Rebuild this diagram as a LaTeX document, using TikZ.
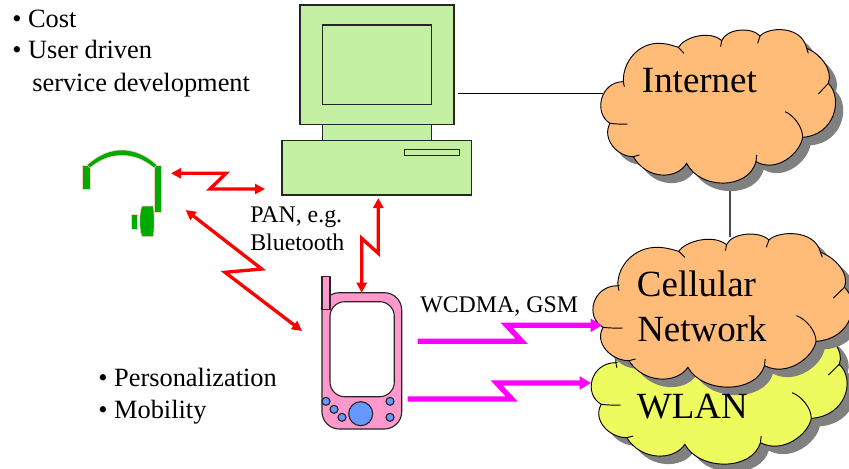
\documentclass[tikz,border=0pt]{standalone}
\usepackage{fontspec}
\setmainfont{Liberation Serif}
\usetikzlibrary{arrows.meta}
\definecolor{cloudorange}{HTML}{FFBB78}
\definecolor{cloudyellow}{HTML}{EEFB5E}
\definecolor{pcgreen}{HTML}{C4F0A4}
\definecolor{phonepink}{HTML}{FF99CC}
\definecolor{phoneblue}{HTML}{6699FF}
\definecolor{headgreen}{HTML}{00AA00}
\definecolor{halo}{HTML}{F8CFC4}
\definecolor{boltmag}{HTML}{FF00FF}
\definecolor{boltred}{HTML}{FF0000}
\newcommand{\cloudoutline}{(130,185) .. controls (128,125) and (175,70) .. (235,70)
 .. controls (262,70) and (282,78) .. (295,82)
 .. controls (315,50) and (390,30) .. (425,62)
 .. controls (440,25) and (515,20) .. (540,48)
 .. controls (565,20) and (665,15) .. (680,85)
 .. controls (720,100) and (760,150) .. (745,190)
 .. controls (790,235) and (765,345) .. (668,352)
 .. controls (660,400) and (590,460) .. (528,425)
 .. controls (505,510) and (360,510) .. (320,430)
 .. controls (290,480) and (200,480) .. (160,410)
 .. controls (110,410) and (65,355) .. (90,310)
 .. controls (40,280) and (60,185) .. cycle}
\newcommand{\drawcloud}[4]{%
 \begin{scope}[shift={(#2,#3)},xscale=#4,scale=0.33333]
  \fill[cloudshadow,shift={(23,24)}] \cloudoutline;
  \filldraw[cloudedge,fill=#1] \cloudoutline;
  \draw[cloudedge] (130,185) -- (133,200);
  \draw[cloudedge] (295,82) -- (312,100);
  \draw[cloudedge] (425,62) -- (422,80);
  \draw[cloudedge] (540,48) -- (533,70);
  \draw[cloudedge] (680,85) -- (685,100);
  \draw[cloudedge] (745,190) -- (715,222);
  \draw[cloudedge] (668,352) .. controls (668,320) and (640,285) .. (615,275);
  \draw[cloudedge] (528,425) -- (530,405);
  \draw[cloudedge] (160,410) -- (178,405);
  \draw[cloudedge] (90,310) .. controls (105,312) and (125,313) .. (143,312);
 \end{scope}}
\tikzset{
 cloudshadow/.style={fill=black!50},
 cloudedge/.style={draw=black,line width=0.7pt},
 pcpart/.style={draw=black!85,fill=pcgreen,line width=0.85pt},
 phonepart/.style={draw=black!85,line width=0.85pt},
 keypad/.style={phonepart,fill=phoneblue},
 headpart/.style={fill=headgreen,draw=halo,line width=0.45pt},
 wire/.style={line width=0.6pt,black},
 redbolt/.style={draw=boltred,line width=2.5pt,{Triangle[length=7.5pt,width=7.5pt]}-{Triangle[length=7.5pt,width=7.5pt]}},
 magbolt/.style={draw=boltmag,line width=4pt,-{Triangle[length=8.5pt,width=9.5pt]}},
 label/.style={anchor=base west,inner sep=0pt,font=\fontsize{19.8}{22}\selectfont},
 small/.style={anchor=base west,inner sep=0pt,font=\fontsize{17.9}{20}\selectfont},
 cloudtext/.style={anchor=base west,inner sep=0pt,font=\fontsize{27.7}{30}\selectfont},
}
\begin{document}
\begin{tikzpicture}[x=0.75pt,y=-0.75pt]
\useasboundingbox (0,0) rectangle (849,468);
\fill[white] (0,0) rectangle (849,468);
% connector end points
\coordinate (pcR) at (458,93);
\coordinate (inetL) at (603,93);
\coordinate (inetB) at (730,189);
\coordinate (cellT) at (730,237);
\coordinate (headA) at (171,173.3);
\coordinate (headA1) at (226,173.3);
\coordinate (headA2) at (210,189);
\coordinate (pcL) at (265,189);
\coordinate (headB) at (185.7,210);
\coordinate (headB1) at (261.7,269);
\coordinate (headB2) at (225,272.3);
\coordinate (phoneL) at (302,331);
\coordinate (pcB) at (378.3,198);
\coordinate (pcB1) at (378.3,253.3);
\coordinate (pcB2) at (361.7,238.3);
\coordinate (phoneT) at (361.7,292.7);
\coordinate (phC) at (417.7,341.3);
\coordinate (phC1) at (521.7,341.3);
\coordinate (phC2) at (506.7,325.3);
\coordinate (cellL) at (602,325.3);
\coordinate (phW) at (407.7,399);
\coordinate (phW1) at (511.7,399);
\coordinate (phW2) at (496.7,383);
\coordinate (wlanL) at (591,383);
% clouds
\draw[line width=1.1pt,black!70] (inetB) -- (cellT);
\draw[wire] (pcR) -- (inetL);
\drawcloud{cloudorange}{580}{20}{1}
\drawcloud{cloudyellow}{568.6}{301}{1.09}
\drawcloud{cloudorange}{570}{224}{1.105}
\node[cloudtext] (inettext) at (641.7,92.7) {Internet};
\node[cloudtext] (celltext) at (636.7,296) {Cellular};
\node[cloudtext] (nettext) at (637,341) {Network};
\node[cloudtext] (wlantext) at (636.7,418) {WLAN};
% computer
\draw[pcpart] (300,5) rectangle (454,124.3);
\draw[pcpart] (322.3,25) rectangle (431.7,104.7);
\draw[pcpart] (322.3,124.3) rectangle (431.7,140.7);
\draw[pcpart] (282,140.7) rectangle (471.7,195);
\draw[pcpart] (404.7,149.3) rectangle (459.3,155.7);
% phone
\draw[phonepart,fill=phonepink,rounded corners=13pt] (322,292.7) rectangle (401.7,429);
\draw[phonepart,fill=phonepink] (322,276.7) rectangle (330,309.3);
\draw[phonepart,fill=white,rounded corners=11pt] (330,301.7) rectangle (394.3,396.7);
\draw[keypad] (360.7,413.7) circle[radius=12];
\draw[keypad] (326,401.3) circle[radius=4];
\draw[keypad] (334,409.3) circle[radius=4];
\draw[keypad] (342,417.3) circle[radius=4];
\draw[keypad] (390,401.3) circle[radius=4];
\draw[keypad] (390,417.3) circle[radius=4];
% headset
\draw[headpart] (82.7,165.7) rectangle (90,189);
\draw[headpart] (154.7,165.7) rectangle (161.3,212.7);
\draw[headpart] (87,165) .. controls (98,155) and (110,150) .. (122,150) .. controls (134,150) and (146,155) .. (157,165)
 -- (154,168) .. controls (144,159.5) and (134,155.5) .. (122,155.5) .. controls (110,155.5) and (100,159.5) .. (90,168) -- cycle;
\draw[headpart] (142,206) -- (153.3,206) .. controls (154.5,214) and (154.5,229) .. (153.3,236.7) -- (142,236.7) .. controls (139,230) and (139,212) .. (142,206) -- cycle;
\draw[headpart] (131.7,214) rectangle (137.3,229);
% bolts
\draw[redbolt] (headA) -- (headA1) -- (headA2) -- (pcL);
\draw[redbolt] (headB) -- (headB1) -- (headB2) -- (phoneL);
\draw[redbolt] (pcB) -- (pcB1) -- (pcB2) -- (phoneT);
\draw[magbolt] (phC) -- (phC1) -- (phC2) -- (cellL);
\draw[magbolt] (phW) -- (phW1) -- (phW2) -- (wlanL);
% text
\node[label] (cost) at (12,27) {• Cost};
\node[label] (user) at (12,58.5) {• User driven};
\node[label] (serv) at (32,91) {service development};
\node[label] (pers) at (98,386) {• Personalization};
\node[label] (mobi) at (98,418) {• Mobility};
\node[small] (pan) at (250,222) {PAN, e.g.};
\node[small] (blue) at (250,250) {Bluetooth};
\node[small] (wcdma) at (420,312) {WCDMA, GSM};
\end{tikzpicture}
\end{document}
